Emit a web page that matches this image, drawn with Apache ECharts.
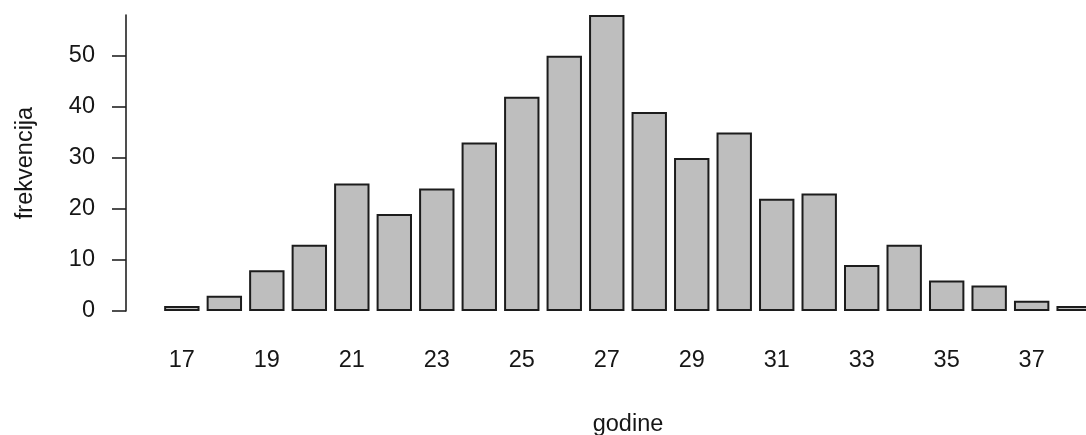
<!DOCTYPE html>
<html>
<head>
<meta charset="utf-8">
<script src="https://cdn.jsdelivr.net/npm/echarts@6/dist/echarts.min.js"></script>
<style>
html,body{margin:0;padding:0;background:#fff;}
#chart{width:1086px;height:435px;}
</style>
</head>
<body>
<div id="chart"></div>
<script>
var categories = ['17','18','19','20','21','22','23','24','25','26','27','28','29','30','31','32','33','34','35','36','37','38'];
var frequencies = [1,3,8,13,25,19,24,33,42,50,58,39,30,35,22,23,9,13,6,5,2,1];
var yTicks = [0,10,20,30,40,50];
var xTitle = 'godine';
var yTitle = 'frekvencija';

var chart = echarts.init(document.getElementById('chart'), null, {renderer:'canvas'});
var font = 'Liberation Sans, Arial, sans-serif';
chart.setOption({
  animation: false,
  backgroundColor: '#ffffff',
  grid: {left: 160.6, width: 934.8, top: 15, bottom: 124, containLabel: false, outerBoundsMode: 'none'},
  xAxis: {
    type: 'category',
    data: categories,
    boundaryGap: true,
    axisLine: {show: false},
    axisTick: {show: false},
    axisLabel: {interval: 1, margin: 38, fontSize: 23.5, color: '#161616', fontFamily: font},
    name: xTitle,
    nameLocation: 'middle',
    nameGap: 102,
    nameTextStyle: {fontSize: 23.5, color: '#161616', fontFamily: font}
  },
  yAxis: {
    type: 'value',
    min: 0,
    max: 58,
    offset: 34.6,
    splitLine: {show: false},
    axisLine: {show: true, lineStyle: {color: '#222', width: 1.6}},
    axisTick: {show: true, length: 14, inside: false, customValues: yTicks, lineStyle: {color: '#222', width: 1.6}},
    axisLabel: {customValues: yTicks, margin: 31, fontSize: 23.5, color: '#161616', fontFamily: font},
    name: yTitle,
    nameLocation: 'middle',
    nameGap: 88,
    nameRotate: 90,
    nameTextStyle: {fontSize: 23.5, color: '#161616', fontFamily: font}
  },
  series: [{
    type: 'bar',
    data: frequencies,
    barWidth: '83.3%',
    clip: false,
    itemStyle: {color: '#bebebe', borderColor: '#1c1c1c', borderWidth: 2}
  }]
});
</script>
</body>
</html>
